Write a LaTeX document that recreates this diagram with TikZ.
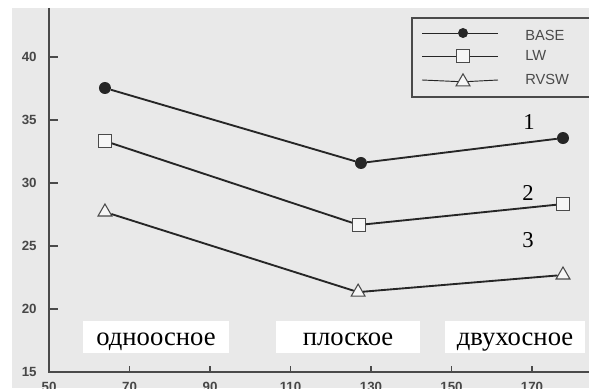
\documentclass[tikz,border=0pt]{standalone}
\usepackage{fontspec}
\setmainfont{Liberation Serif}
\newfontfamily\axisfont{Liberation Sans}
\usetikzlibrary{shapes.geometric}
\definecolor{paper}{HTML}{E9E9E9}
\definecolor{ink}{HTML}{262626}
\definecolor{axisgray}{HTML}{4A4A4A}

\begin{document}
\begin{tikzpicture}[x=3.01875pt, y=9.45pt,
  dot/.style={circle, fill=ink, inner sep=0pt, minimum size=9pt},
  sqmark/.style={rectangle, draw=axisgray, fill=white!60!paper, line width=0.8pt, inner sep=0pt, minimum size=9.5pt},
  trimark/.style={regular polygon, regular polygon sides=3, draw=axisgray, fill=white!60!paper, line width=0.8pt, inner sep=0pt, minimum size=12pt},
  series/.style={draw=ink, line width=1.4pt},
  ticklabel/.style={font=\axisfont\bfseries\fontsize{10}{11}\selectfont, text=ink!85, inner sep=0pt},
  legendtext/.style={font=\axisfont\fontsize{11}{12}\selectfont, text=axisgray, inner sep=0pt},
  caselabel/.style={fill=white, inner xsep=0pt, inner ysep=0pt, text height=18.75pt, text depth=5.25pt, font=\fontsize{20}{22}\selectfont},
  curvenum/.style={font=\fontsize{17}{19}\selectfont, inner sep=0pt}]
% Page and paper
\useasboundingbox (37.826,13.730) rectangle (184.16,44.524);
\fill[white] (37.826,13.730) rectangle (184.16,44.524);
\fill[paper] (40.81,13.730) rectangle (184.16,43.889);
% Axes
\coordinate (O) at (50,15);
\coordinate (ytop) at (50,43.889);
\coordinate (xend) at (184.16,15);
\draw[axisgray, line width=1pt] (ytop) -- (O) -- (xend);
\foreach \v in {20,25,...,40}
  \draw[axisgray, line width=0.8pt] (50,\v) -- ++(2.2,0);
\foreach \u in {70,90,...,170}
  \draw[axisgray, line width=0.8pt] (\u,15) -- ++(0,0.5);
% Tick labels
\foreach \v in {15,20,...,40}
  \node[ticklabel, anchor=east] (y\v) at (47.0,\v) {\v};
\foreach \u in {50,70,...,170}
  \node[ticklabel] (x\u) at (\u,13.82) {\u};
% Legend
\draw[axisgray, line width=0.8pt, fill=paper] (140.19,43.095) rectangle (186,36.825);
\coordinate (lgA1) at (142.67,41.905);
\coordinate (lgB1) at (161.55,41.905);
\coordinate (lgA2) at (142.67,40.08);
\coordinate (lgB2) at (161.55,40.08);
\coordinate (lgA3) at (142.67,38.175);
\coordinate (lgB3) at (161.55,38.175);
\node[dot, minimum size=7.5pt] (lgm1) at (152.86,41.905) {};
\node[sqmark] (lgm2) at (152.86,40.08) {};
\node[trimark] (lgm3) at (152.86,38.03) {};
\draw[ink, line width=0.7pt] (lgA1) -- (lgm1) -- (lgB1);
\draw[ink, line width=0.7pt] (lgA2) -- (lgm2) -- (lgB2);
\draw[ink, line width=0.7pt] (lgA3) -- (lgm3) -- (lgB3);
\node[legendtext, anchor=base west] (lgt1) at (168.26,41.29) {BASE};
\node[legendtext, anchor=base west] (lgt2) at (168.26,39.74) {LW};
\node[legendtext, anchor=base west] (lgt3) at (168.26,37.78) {RVSW};
% Curve 1: BASE
\node[dot] (b1) at (63.9,37.54) {};
\node[dot] (b2) at (127.5,31.59) {};
\node[dot] (b3) at (177.7,33.57) {};
\draw[series] (b1) -- (b2) -- (b3);
% Curve 2: LW
\node[sqmark] (l1) at (63.9,33.33) {};
\node[sqmark] (l2) at (127.0,26.67) {};
\node[sqmark] (l3) at (177.7,28.33) {};
\draw[series] (l1) -- (l2) -- (l3);
% Curve 3: RVSW
\node[trimark] (r1) at (63.9,27.70) {};
\node[trimark] (r2) at (126.8,21.34) {};
\node[trimark] (r3) at (177.7,22.70) {};
\draw[series] (r1) -- (r2) -- (r3);
% Curve numbers
\node[curvenum] (n1) at (169.25,34.84) {1};
\node[curvenum] (n2) at (169.0,29.21) {2};
\node[curvenum] (n3) at (169.0,25.48) {3};
% Loading cases
\node[caselabel, minimum width=109.5pt] (uni) at (76.58,17.78) {одноосное};
\node[caselabel, minimum width=108pt] (plane) at (124.29,17.78) {плоское};
\node[caselabel, minimum width=105pt] (bi) at (165.78,17.78) {двухосное};
\end{tikzpicture}
\end{document}
